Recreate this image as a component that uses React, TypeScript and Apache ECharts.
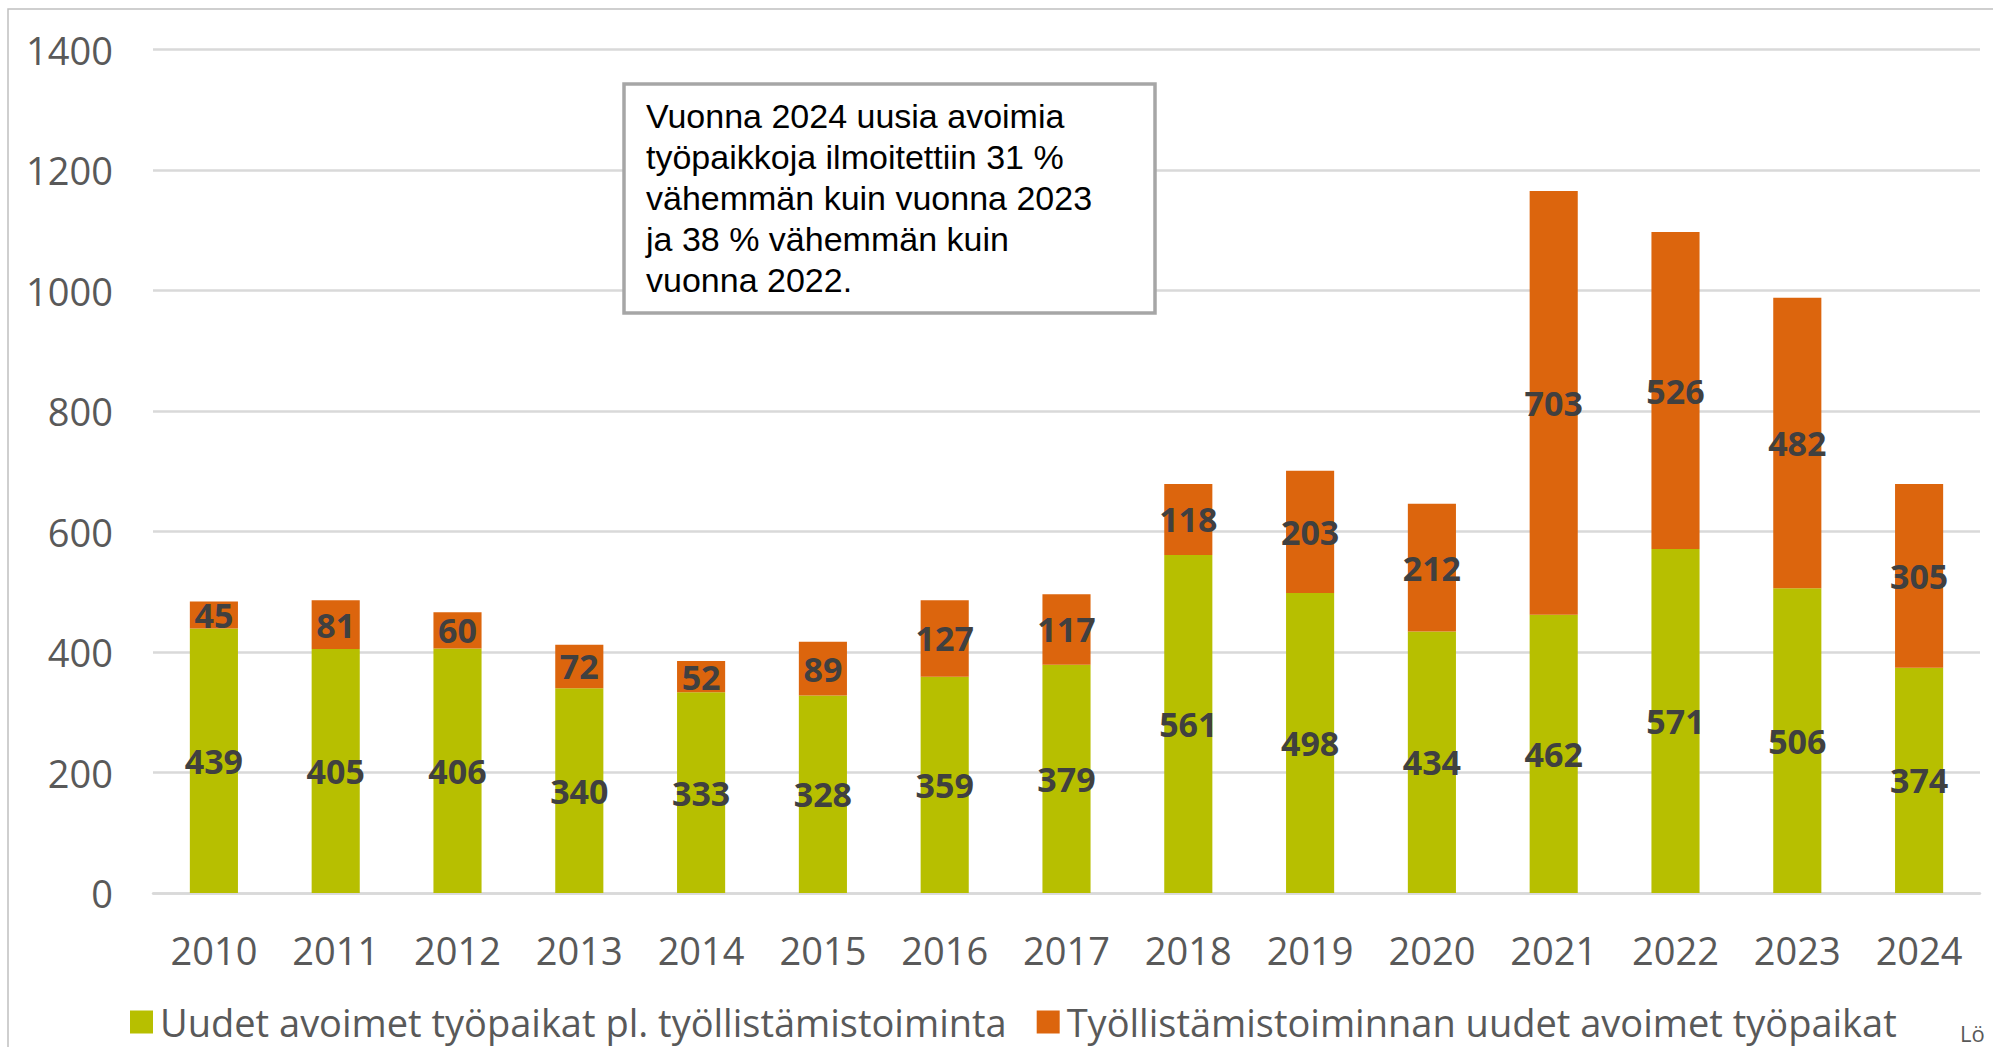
import React, { useEffect, useRef } from "react";
import * as echarts from "echarts";

const years = ["2010","2011","2012","2013","2014","2015","2016","2017","2018","2019","2020","2021","2022","2023","2024"];
const regularJobs = [439, 405, 406, 340, 333, 328, 359, 379, 561, 498, 434, 462, 571, 506, 374];
const employmentJobs = [45, 81, 60, 72, 52, 89, 127, 117, 118, 203, 212, 703, 526, 482, 305];
const seriesNames = [
  "Uudet avoimet työpaikat pl. työllistämistoiminta",
  "Työllistämistoiminnan uudet avoimet työpaikat",
];
const noteText =
  "Vuonna 2024 uusia avoimia\ntyöpaikkoja ilmoitettiin 31 %\nvähemmän kuin vuonna 2023\nja 38 % vähemmän kuin\nvuonna 2022.";

const GREEN = "#b7bf00";
const ORANGE = "#dc650d";
const FONT = "'Open Sans', sans-serif";

export default function App() {
  const ref = useRef<HTMLDivElement>(null);
  useEffect(() => {
    if (!ref.current) return;
    const chart = echarts.init(ref.current, undefined, { renderer: "svg" });
    const labelStyle = {
      show: true,
      position: "inside",
      color: "#404040",
      fontFamily: FONT,
      fontWeight: "bold",
      fontSize: 34,
    };
    chart.setOption({
      animation: false,
      backgroundColor: "#ffffff",
      grid: { left: 153, right: 13, top: 49.5, bottom: 154, containLabel: false },
      legend: {
        left: 125,
        top: 997,
        itemWidth: 23,
        itemHeight: 23,
        itemGap: 30,
        icon: "rect",
        textStyle: { fontFamily: FONT, fontSize: 38, lineHeight: 40, color: "#595959", padding: [0, 0, 0, 2] },
        data: seriesNames,
      },
      xAxis: {
        type: "category",
        data: years,
        axisLine: { show: true, lineStyle: { color: "#d9d9d9", width: 2.5 } },
        axisTick: { show: false },
        axisLabel: { color: "#595959", fontFamily: FONT, fontSize: 38, margin: 37, lineHeight: 40 },
      },
      yAxis: {
        type: "value",
        min: 0,
        max: 1400,
        interval: 200,
        axisLine: { show: false },
        axisTick: { show: false },
        splitLine: { lineStyle: { color: "#d9d9d9", width: 2.5 } },
        axisLabel: {
          color: "#595959",
          fontFamily: FONT,
          fontSize: 38,
          margin: 40,
          formatter: (v: number) => String(v),
        },
      },
      series: [
        {
          name: seriesNames[0],
          type: "bar",
          stack: "total",
          data: regularJobs,
          barWidth: "39.5%",
          itemStyle: { color: GREEN },
          label: labelStyle,
        },
        {
          name: seriesNames[1],
          type: "bar",
          stack: "total",
          data: employmentJobs,
          barWidth: "39.5%",
          itemStyle: { color: ORANGE },
          label: labelStyle,
        },
      ],
      graphic: [
        {
          type: "rect",
          silent: true,
          shape: { x: 8, y: 9, width: 2100, height: 1200 },
          style: { fill: "none", stroke: "#c0c0c0", lineWidth: 1.5 },
          z: 100,
        },
        {
          type: "rect",
          shape: { x: 624, y: 84, width: 531, height: 229 },
          style: { fill: "#ffffff", stroke: "#a6a6a6", lineWidth: 3.5 },
          z: 100,
        },
        {
          type: "text",
          x: 646,
          y: 95,
          style: {
            text: noteText,
            font: "34px 'Liberation Sans', Arial, sans-serif",
            lineHeight: 41,
            fill: "#000000",
          },
          z: 101,
        },
        {
          type: "text",
          x: 1960,
          y: 1022,
          style: { text: "Lö", font: "22px 'Open Sans', sans-serif", fill: "#595959" },
          z: 101,
        },
      ],
    });
    return () => chart.dispose();
  }, []);
  return (
    <div
      ref={ref}
      style={{ position: "fixed", left: 0, top: 0, width: 1993, height: 1047, background: "#fff" }}
    />
  );
}
